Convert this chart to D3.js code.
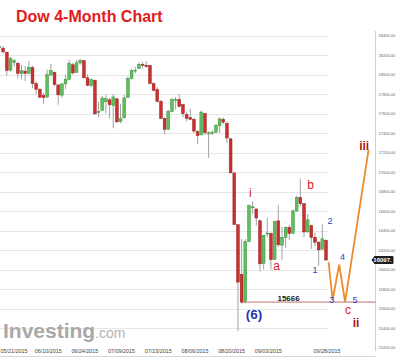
<!DOCTYPE html>
<html><head><meta charset="utf-8">
<script src="https://cdn.jsdelivr.net/npm/d3@7"></script>
<style>html,body{margin:0;padding:0;background:#fff;}svg{display:block;}</style>
</head><body>
<svg id="c" width="400" height="358"></svg>
<script>
// ---- data ----
const dates = ["05/21/2015","05/22/2015","05/26/2015","05/27/2015","05/28/2015","05/29/2015",
"06/01/2015","06/02/2015","06/03/2015","06/04/2015","06/05/2015","06/08/2015","06/09/2015","06/10/2015","06/11/2015","06/12/2015",
"06/15/2015","06/16/2015","06/17/2015","06/18/2015","06/19/2015","06/22/2015","06/23/2015","06/24/2015","06/25/2015","06/26/2015",
"06/29/2015","06/30/2015","07/01/2015","07/02/2015","07/06/2015","07/07/2015","07/08/2015","07/09/2015","07/10/2015",
"07/13/2015","07/14/2015","07/15/2015","07/16/2015","07/17/2015","07/20/2015","07/21/2015","07/22/2015","07/23/2015","07/24/2015",
"07/27/2015","07/28/2015","07/29/2015","07/30/2015","07/31/2015","08/03/2015","08/04/2015","08/05/2015","08/06/2015","08/07/2015",
"08/10/2015","08/11/2015","08/12/2015","08/13/2015","08/14/2015","08/17/2015","08/18/2015","08/19/2015","08/20/2015","08/21/2015",
"08/24/2015","08/25/2015","08/26/2015","08/27/2015","08/28/2015","08/31/2015","09/01/2015","09/02/2015","09/03/2015","09/04/2015",
"09/08/2015","09/09/2015","09/10/2015","09/11/2015","09/14/2015","09/15/2015","09/16/2015","09/17/2015","09/18/2015",
"09/21/2015","09/22/2015","09/23/2015","09/24/2015","09/25/2015","09/28/2015"];
const open  = [18285,18270,18229,18045,18121,18115,18010,18035,18012,18070,17906,17849,17785,17768,17995,18020,
17894,17788,17904,17950,18100,18020,18118,18142,17966,17886,17942,17610,17630,17720,17740,17680,17750,17520,17555,
17765,17960,18040,18060,18105,18095,18090,17907,17846,17724,17550,17438,17622,17744,17744,17690,17591,17560,17540,17415,
17380,17600,17390,17400,17408,17474,17540,17500,17340,16990,16459,15950,15676,16285,16643,16620,16500,16060,16370,16370,
16102,16500,16250,16330,16433,16370,16600,16740,16675,16385,16450,16330,16280,16210,16300];
const high  = [18314,18290,18232,18180,18160,18130,18100,18090,18140,18090,17930,17860,17810,18050,18110,18030,
17894,17910,18000,18150,18120,18150,18160,18150,18000,17960,17942,17720,17780,17790,17760,17800,17760,17700,17790,
17980,18060,18080,18120,18130,18140,18100,17920,17870,17740,17560,17640,17760,17770,17800,17700,17620,17650,17560,17430,
17630,17610,17420,17430,17490,17560,17560,17520,17350,17000,16459,16312,16312,16666,16700,16630,16510,16352,16529,16380,
16500,16664,16440,16440,16460,16620,16755,16933,16680,16570,16460,16380,16290,16465,16310];
const low   = [18246,18215,17990,18030,18080,17960,17950,17930,18000,17860,17800,17760,17700,17768,17990,17880,
17690,17760,17850,17940,18000,18020,18100,17960,17880,17870,17590,17560,17630,17600,17550,17450,17500,17500,17555,
17765,17950,18010,18055,18060,18070,17900,17830,17710,17540,17387,17430,17610,17640,17660,17560,17520,17530,17400,17285,
17380,17380,17145,17380,17400,17400,17490,17300,16990,16459,15370,15651,15651,16285,16570,16450,15979,16000,16330,16000,
16102,16230,16100,16220,16300,16370,16590,16650,16330,16380,16211,16240,16038,16200,16090];
const close = [18285,18232,18041,18163,18142,18010,18040,18012,18076,17906,17849,17767,17764,18000,18039,17899,
17791,17904,17950,18116,18016,18120,18144,17966,17890,17947,17596,17620,17758,17752,17690,17770,17515,17549,17760,
17960,18040,18045,18105,18095,18080,17907,17836,17724,17550,17438,17622,17744,17746,17673,17598,17550,17540,17420,17373,
17615,17403,17402,17408,17477,17545,17511,17349,16991,16460,15871,15666,16285,16655,16643,16528,16058,16351,16374,16102,
16492,16253,16330,16433,16370,16600,16740,16675,16385,16510,16330,16280,16201,16315,16097];

const priceTicks = [15200,15400,15600,15800,16000,16200,16400,16600,16800,17000,17200,17400,17600,17800,18000,18200,18400];
const dateTicks = ["05/21/2015","06/10/2015","06/24/2015","07/09/2015","07/23/2015","08/06/2015","08/20/2015","09/03/2015","09/28/2015"];
const lastPrice = 16097;
const supportLevel = 15666;

// projected wave path: [index, price]
const projIdx   = [89.7, 90.8, 92.6, 94.2, 100.6];
const projPrice = [16077, 15690, 16050, 15667, 17226];

// wave labels: text, index, price, kind
const labelText  = ["i","b","a","(6)","2","1","4","3","5","c","ii","iii","15666"];
const labelIdx   = [68.4, 84.8, 75.5, 69.4, 90.1, 86.0, 93.5, 90.6, 96.9, 95.0, 97.2, 99.4, 78.8];
const labelPrice = [16744,16826,15995,15492,16467,15964,16097,15656,15656,15544,15410,17226,15677];
const labelKind  = ["red","red","red","blue6","blue","blue","blue","blue","blue","red","dred","dred","num"];

// ---- drawing ----
const svg = d3.select("#c");
svg.append("rect").attr("width",400).attr("height",358).attr("fill","#fff");

const x = d3.scaleLinear().domain([0, dates.length-1]).range([-0.5, 326]);
const y = d3.scaleLinear().domain([15200, 18400]).range([347.5, 35.5]);
const plotRight = 328, axisX = 375.5;

// gridlines
svg.append("g").selectAll("line").data(priceTicks.filter(d=>d>15200)).join("line")
  .attr("x1",0).attr("x2",plotRight).attr("y1",d=>Math.round(y(d))+0.5).attr("y2",d=>Math.round(y(d))+0.5)
  .attr("stroke","#e6e6e6").attr("stroke-width",1);

// right axis
const yAxis = d3.axisRight(y).tickValues(priceTicks).tickSize(0).tickPadding(3).tickFormat(d=>d3.format(".2f")(d));
const ga = svg.append("g").attr("transform",`translate(${axisX},0)`).call(yAxis);
ga.select(".domain").attr("stroke","#d0d0d0").attr("d","M0,31V351");
ga.selectAll("text").attr("font-family","Liberation Sans, Arial, sans-serif").attr("font-size",4).attr("fill","#666");

// bottom line
svg.append("line").attr("x1",0).attr("x2",axisX).attr("y1",356.5).attr("y2",356.5).attr("stroke","#d8d8d8");

// logo
const logo = svg.append("text").attr("x",3).attr("y",338).attr("font-family","Liberation Sans, Arial, sans-serif");
logo.append("tspan").attr("font-size",21).attr("font-weight","bold").attr("fill","#a9a9a9").text("Investing");
logo.append("tspan").attr("font-size",14).attr("fill","#b3b3b3").text(".com");

// date labels
const di = dateTicks.map(t=>dates.indexOf(t));
const dl = svg.append("g").selectAll("text").data(di).join("text")
  .attr("y",353).attr("text-anchor","middle")
  .attr("font-family","Liberation Sans, Arial, sans-serif").attr("font-size",5.4).attr("fill","#444")
  .text(i=>dates[i]);
dl.attr("x",function(i){const w=this.getComputedTextLength(); return Math.max(x(i)+1, w/2+0.5);});

// support line
svg.append("line").attr("x1",x(dates.indexOf("08/25/2015"))).attr("x2",axisX)
  .attr("y1",y(supportLevel)).attr("y2",y(supportLevel)).attr("stroke","#b87070").attr("stroke-width",1);

// candles
const bw = 2.8;
const cg = svg.append("g");
const idx = d3.range(dates.length);
cg.selectAll("line").data(idx).join("line")
  .attr("x1",i=>x(i)).attr("x2",i=>x(i)).attr("y1",i=>y(high[i])).attr("y2",i=>y(low[i]))
  .attr("stroke","#8a8a8a").attr("stroke-width",0.8);
cg.selectAll("rect").data(idx).join("rect")
  .attr("x",i=>x(i)-bw/2).attr("width",bw)
  .attr("y",i=>y(Math.max(open[i],close[i])))
  .attr("height",i=>Math.max(1, Math.abs(y(open[i])-y(close[i]))))
  .attr("fill",i=>close[i]>=open[i]?"#5cc05c":"#c93030")
  .attr("stroke",i=>close[i]>=open[i]?"#3d8f3d":"#9a2020").attr("stroke-width",0.5);

// projected path
svg.append("path").datum(d3.range(projIdx.length))
  .attr("d",d3.line().x(i=>x(projIdx[i])).y(i=>y(projPrice[i])))
  .attr("fill","none").attr("stroke","#ef8a2c").attr("stroke-width",1.8).attr("stroke-linejoin","miter");

// labels
const kindStyle = {
  red:  {size:12, color:"#d42222", weight:"normal"},
  dred: {size:12, color:"#b01818", weight:"bold"},
  blue: {size:9, color:"#2b3fc0", weight:"normal"},
  blue6:{size:13.5, color:"#2437b0", weight:"bold"},
  num:  {size:8, color:"#1a1a1a", weight:"bold"}
};
svg.append("g").selectAll("text").data(d3.range(labelText.length)).join("text")
  .attr("x",i=>x(labelIdx[i])).attr("y",i=>y(labelPrice[i])).attr("text-anchor","middle")
  .attr("font-family","Liberation Sans, Arial, sans-serif")
  .attr("font-size",i=>kindStyle[labelKind[i]].size)
  .attr("font-weight",i=>kindStyle[labelKind[i]].weight)
  .attr("fill",i=>kindStyle[labelKind[i]].color)
  .text(i=>labelText[i]);

// last price tag
const ly = y(lastPrice);
const tag = svg.append("g");
tag.append("path").attr("d",`M${axisX-4},${ly} L${axisX-1},${ly-4} H${axisX+17} Q${axisX+18},${ly-4} ${axisX+18},${ly-3} V${ly+3} Q${axisX+18},${ly+4} ${axisX+17},${ly+4} H${axisX-1} Z`)
  .attr("fill","#1e1e1e");
tag.append("text").attr("x",axisX+7).attr("y",ly+2.2).attr("text-anchor","middle")
  .attr("font-family","Liberation Sans, Arial, sans-serif").attr("font-size",6).attr("font-weight","bold")
  .attr("fill","#fff").text(d3.format("d")(lastPrice)+".");

// title
svg.append("text").attr("x",16).attr("y",21.5).attr("font-family","Liberation Sans, Arial, sans-serif")
  .attr("font-size",16).attr("font-weight","bold").attr("fill","#e01c1c").text("Dow 4-Month Chart");
</script>
</body></html>
